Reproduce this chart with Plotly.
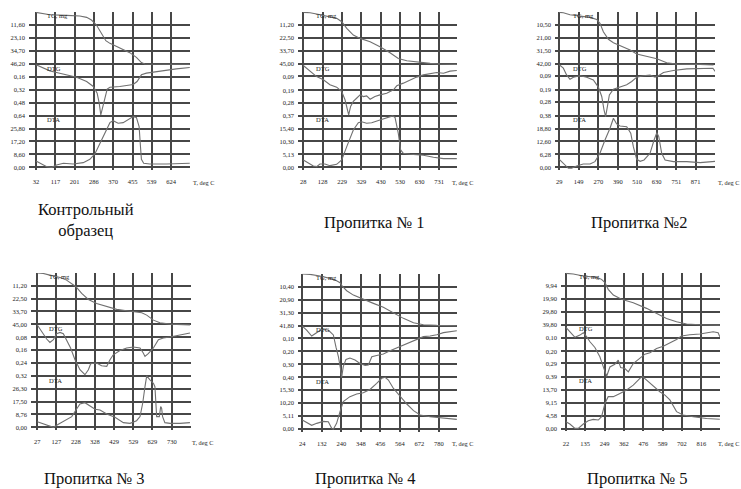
import plotly.graph_objects as go

# ---------------- data (T in deg C; TG in mg lost; DTG; DTA) ----------------
captions = ["Контрольный<br>образец", "Пропитка № 1", "Пропитка №2",
            "Пропитка № 3", "Пропитка № 4", "Пропитка № 5"]

# Panel 1 - control sample
p1_xticks = [32, 117, 201, 286, 370, 455, 539, 624]
p1_tg_ticks = [11.60, 23.10, 34.70, 46.20]
p1_dtg_ticks = [0.16, 0.32, 0.48, 0.64]
p1_dta_ticks = [25.80, 17.20, 8.60, 0.00]
p1_tg_T = [32, 64, 93, 166, 224, 254, 275, 297, 319, 338, 356, 399, 443, 472, 494, 509, 706]
p1_tg = [0.24, 1.1, 2.3, 2.9, 3.5, 4.7, 7.1, 11.5, 19.0, 25.5, 27.9, 31.8, 36.2, 40.4, 45.1, 46.3, 46.6]
p1_dtg_T = [32, 64, 93, 122, 166, 210, 254, 283, 300, 309, 316, 324, 334, 344, 356, 378, 399, 429, 458, 475, 494, 516, 560, 604, 647, 706]
p1_dtg = [0.012, 0.054, 0.087, 0.107, 0.136, 0.165, 0.219, 0.28, 0.363, 0.487, 0.631, 0.528, 0.404, 0.313, 0.289, 0.289, 0.28, 0.268, 0.256, 0.219, 0.136, 0.115, 0.095, 0.078, 0.062, 0.045]
p1_dta_T = [32, 57, 79, 101, 122, 152, 195, 239, 268, 290, 312, 334, 356, 370, 392, 414, 436, 458, 472, 484, 490, 494, 504, 531, 604, 706]
p1_dta = [4.2, 2.2, 0.44, 0.0, 1.55, 2.66, 2.2, 3.1, 5.3, 8.9, 16.0, 23.7, 29.7, 31.0, 29.3, 29.7, 31.9, 33.7, 33.2, 27.0, 13.7, 5.3, 2.66, 2.2, 2.2, 2.66]

# Panel 2
p2_xticks = [28, 128, 229, 329, 430, 530, 630, 731]
p2_tg_ticks = [11.20, 22.50, 33.70, 45.00]
p2_dtg_ticks = [0.09, 0.19, 0.28, 0.37]
p2_dta_ticks = [15.40, 10.30, 5.13, 0.00]
p2_tg_T = [28, 63, 97, 149, 201, 227, 253, 287, 322, 374, 425, 477, 520, 564, 615, 685, 736, 823]
p2_tg = [0.23, 0.52, 1.68, 3.42, 5.45, 8.35, 14.15, 19.95, 22.85, 25.75, 30.1, 35.3, 40.3, 42.3, 43.5, 44.6, 45.2, 45.5]
p2_dtg_T = [28, 63, 97, 132, 166, 201, 227, 244, 256, 263, 273, 287, 304, 322, 339, 356, 374, 399, 425, 460, 495, 512, 546, 581, 615, 650, 685, 719, 754, 788, 823]
p2_dtg = [0.012, 0.055, 0.091, 0.114, 0.150, 0.167, 0.198, 0.257, 0.329, 0.365, 0.305, 0.269, 0.246, 0.222, 0.234, 0.229, 0.253, 0.234, 0.222, 0.210, 0.186, 0.157, 0.138, 0.114, 0.095, 0.079, 0.072, 0.062, 0.067, 0.052, 0.048]
p2_dta_T = [28, 54, 80, 97, 114, 140, 166, 201, 227, 253, 287, 313, 330, 356, 382, 425, 460, 491, 503, 520, 532, 546, 581, 650, 702, 754, 823]
p2_dta = [2.91, 1.85, 0.53, 0.26, 1.32, 1.32, 0.66, 1.19, 2.91, 8.2, 14.8, 17.7, 18.1, 17.5, 17.7, 18.8, 19.7, 20.4, 19.8, 13.5, 6.9, 5.55, 5.2, 4.76, 3.97, 3.44, 3.44]

# Panel 3
p3_xticks = [29, 149, 270, 390, 510, 630, 751, 871]
p3_tg_ticks = [10.50, 21.00, 31.50, 42.00]
p3_dtg_ticks = [0.09, 0.19, 0.28, 0.38]
p3_dta_ticks = [18.80, 12.60, 6.28, 0.00]
p3_tg_T = [29, 54, 95, 157, 219, 260, 280, 301, 332, 363, 404, 466, 507, 569, 631, 692, 754, 898, 981]
p3_tg = [0.2, 0.5, 2.1, 3.2, 4.3, 5.9, 9.1, 15.9, 22.1, 24.8, 27.3, 30.8, 34.0, 36.2, 37.8, 41.1, 42.2, 42.4, 43.0]
p3_dtg_T = [29, 54, 74, 95, 116, 157, 198, 239, 270, 291, 305, 315, 326, 338, 363, 404, 445, 476, 507, 548, 589, 620, 641, 672, 733, 816, 898, 977, 991]
p3_dtg = [0.007, 0.032, 0.081, 0.113, 0.098, 0.088, 0.098, 0.118, 0.171, 0.240, 0.338, 0.387, 0.313, 0.228, 0.186, 0.171, 0.154, 0.130, 0.098, 0.088, 0.083, 0.098, 0.088, 0.064, 0.049, 0.037, 0.032, 0.032, 0.056]
p3_dta_T = [29, 54, 85, 105, 136, 177, 219, 249, 280, 311, 342, 363, 383, 404, 445, 470, 486, 507, 528, 552, 589, 614, 631, 643, 661, 682, 733, 816, 898, 991]
p3_dta = [3.88, 1.94, -0.48, -0.48, 0.65, 1.62, 1.62, 2.75, 6.79, 13.25, 18.9, 23.75, 21.0, 20.0, 19.7, 16.5, 10.0, 3.88, 2.91, 3.56, 6.79, 13.25, 16.8, 14.9, 6.79, 3.56, 2.75, 2.75, 2.26, 2.91]

# Panel 4
p4_xticks = [27, 127, 228, 328, 429, 529, 629, 730]
p4_tg_ticks = [11.20, 22.50, 33.70, 45.00]
p4_dtg_ticks = [0.08, 0.16, 0.24, 0.32]
p4_dta_ticks = [26.30, 17.50, 8.76, 0.00]
p4_tg_T = [27, 58, 93, 146, 180, 207, 229, 259, 294, 337, 390, 442, 494, 529, 573, 599, 634, 668, 721, 825]
p4_tg = [0.0, 0.47, 1.92, 3.96, 6.3, 9.2, 12.1, 17.95, 23.2, 26.7, 29.6, 31.9, 33.1, 33.7, 34.9, 36.9, 41.3, 43.6, 44.8, 45.4]
p4_dtg_T = [27, 50, 76, 93, 111, 128, 146, 163, 180, 201, 224, 250, 276, 294, 306, 337, 363, 390, 407, 424, 459, 494, 529, 564, 581, 590, 607, 634, 660, 686, 721, 756, 790, 825]
p4_dtg = [0.004, 0.044, 0.091, 0.112, 0.095, 0.058, 0.050, 0.058, 0.095, 0.147, 0.220, 0.282, 0.313, 0.282, 0.245, 0.240, 0.257, 0.261, 0.220, 0.189, 0.162, 0.147, 0.141, 0.147, 0.178, 0.199, 0.182, 0.147, 0.095, 0.085, 0.079, 0.070, 0.064, 0.054]
p4_dta_T = [27, 58, 93, 111, 137, 180, 207, 229, 250, 276, 302, 329, 355, 390, 433, 477, 512, 546, 564, 578, 590, 599, 616, 634, 642, 651, 665, 672, 677, 682, 694, 721, 773, 825]
p4_dta = [3.86, 2.27, 0.45, 0.0, 2.04, 5.0, 7.27, 11.8, 15.9, 16.8, 14.5, 12.3, 11.8, 9.1, 6.8, 3.2, 2.7, 4.5, 7.3, 16.4, 27.7, 35.0, 32.3, 30.0, 27.7, 7.3, 7.3, 14.1, 13.0, 7.3, 3.2, 2.7, 2.7, 3.2]

# Panel 5
p5_xticks = [24, 132, 240, 348, 456, 564, 672, 780]
p5_tg_ticks = [10.40, 20.90, 31.30, 41.80]
p5_dtg_ticks = [0.10, 0.20, 0.30, 0.40]
p5_dta_ticks = [15.30, 10.20, 5.11, 0.00]
p5_tg_T = [24, 67, 122, 177, 214, 233, 248, 270, 307, 362, 418, 473, 529, 584, 640, 695, 769, 880]
p5_tg = [0.2, 0.5, 1.8, 3.7, 5.6, 7.2, 10.45, 13.7, 17.2, 20.7, 23.9, 27.1, 31.5, 36.0, 39.5, 41.2, 41.7, 42.0]
p5_dtg_T = [24, 48, 76, 104, 131, 168, 196, 211, 224, 237, 242, 251, 266, 288, 316, 344, 372, 390, 409, 436, 473, 510, 547, 584, 621, 658, 695, 732, 769, 806, 843, 880]
p5_dtg = [0.004, 0.035, 0.081, 0.055, 0.030, 0.035, 0.073, 0.169, 0.241, 0.344, 0.401, 0.318, 0.262, 0.251, 0.267, 0.293, 0.308, 0.305, 0.241, 0.231, 0.220, 0.195, 0.174, 0.153, 0.133, 0.112, 0.086, 0.081, 0.071, 0.055, 0.048, 0.040]
p5_dta_T = [24, 48, 76, 104, 140, 168, 187, 196, 214, 233, 251, 288, 325, 362, 399, 436, 464, 483, 501, 529, 566, 603, 640, 677, 732, 806, 880]
p5_dta = [3.55, 2.5, 1.45, 2.23, 3.02, 2.89, 0.26, -0.13, 2.23, 6.8, 10.8, 12.75, 13.8, 14.3, 15.6, 18.0, 20.0, 20.4, 19.3, 16.0, 12.75, 9.86, 7.23, 5.52, 4.86, 4.34, 3.81]

# Panel 6
p6_xticks = [22, 135, 249, 362, 476, 589, 702, 816]
p6_tg_ticks = [9.94, 19.90, 29.80, 39.80]
p6_dtg_ticks = [0.10, 0.20, 0.29, 0.39]
p6_dta_ticks = [13.70, 9.15, 4.58, 0.00]
p6_tg_T = [22, 65, 124, 202, 231, 251, 270, 300, 348, 417, 495, 554, 612, 671, 730, 808, 925]
p6_tg = [0.5, 1.0, 2.55, 3.6, 5.1, 7.65, 12.75, 17.1, 20.4, 23.0, 27.3, 31.1, 35.0, 37.5, 39.3, 39.8, 40.1]
p6_dtg_T = [22, 45, 75, 104, 124, 143, 163, 192, 221, 245, 261, 280, 309, 329, 343, 368, 388, 417, 456, 485, 515, 554, 593, 632, 671, 700, 749, 808, 886, 915, 925]
p6_dtg = [0.020, 0.053, 0.095, 0.078, 0.060, 0.090, 0.128, 0.171, 0.241, 0.329, 0.387, 0.317, 0.297, 0.266, 0.322, 0.329, 0.354, 0.291, 0.254, 0.221, 0.211, 0.178, 0.161, 0.136, 0.111, 0.085, 0.075, 0.070, 0.053, 0.060, 0.090]
p6_dta_T = [22, 45, 75, 94, 124, 153, 182, 212, 231, 251, 270, 300, 339, 378, 417, 456, 472, 495, 534, 573, 603, 632, 671, 710, 769, 847, 925]
p6_dta = [2.46, 1.64, 0.12, 0.12, 1.64, 2.81, 3.28, 3.05, 4.22, 8.9, 11.25, 11.25, 12.4, 13.6, 15.3, 17.7, 18.3, 17.1, 14.8, 13.0, 11.8, 10.1, 6.0, 4.8, 4.2, 3.6, 3.3]

# ---------------- layout geometry (pixels) ----------------
W, H = 741, 489
# plot box: left, right, top(row 12), bottom(row -0.2); x range in deg C
boxes = [
    dict(l=29, r=190, t=12.1, b=169.9, xr=[1.3, 707], tl=190.5, ty=182.7),
    dict(l=298, r=457, t=12.1, b=169.9, xr=[0.5, 824], tl=449.5, ty=182.7),
    dict(l=555, r=715, t=12.1, b=169.9, xr=[2.5, 990], tl=716, ty=182.7),
    dict(l=31, r=190.7, t=272.9, b=429.9, xr=[-6, 829], tl=189.5, ty=442.7),
    dict(l=298, r=457, t=273.8, b=431.6, xr=[0.2, 881], tl=449.5, ty=443.3),
    dict(l=561, r=720, t=272.7, b=431.3, xr=[-7, 926], tl=716, ty=443.3),
]
cap_pos = [(86, 219.5), (374, 222), (639, 222), (95, 478), (365, 478), (637, 478)]

panels = [
    (p1_xticks, p1_tg_ticks, p1_dtg_ticks, p1_dta_ticks, p1_tg_T, p1_tg, p1_dtg_T, p1_dtg, p1_dta_T, p1_dta),
    (p2_xticks, p2_tg_ticks, p2_dtg_ticks, p2_dta_ticks, p2_tg_T, p2_tg, p2_dtg_T, p2_dtg, p2_dta_T, p2_dta),
    (p3_xticks, p3_tg_ticks, p3_dtg_ticks, p3_dta_ticks, p3_tg_T, p3_tg, p3_dtg_T, p3_dtg, p3_dta_T, p3_dta),
    (p4_xticks, p4_tg_ticks, p4_dtg_ticks, p4_dta_ticks, p4_tg_T, p4_tg, p4_dtg_T, p4_dtg, p4_dta_T, p4_dta),
    (p5_xticks, p5_tg_ticks, p5_dtg_ticks, p5_dta_ticks, p5_tg_T, p5_tg, p5_dtg_T, p5_dtg, p5_dta_T, p5_dta),
    (p6_xticks, p6_tg_ticks, p6_dtg_ticks, p6_dta_ticks, p6_tg_T, p6_tg, p6_dtg_T, p6_dtg, p6_dta_T, p6_dta),
]

SERIF = "Liberation Serif, Times New Roman, serif"
GRID = "#474747"
GW = 1.5
CURVE = "#707070"
TICKFONT = dict(family=SERIF, size=6.5, color="#222")


def fmt(v):
    return f"{v:.2f}".replace(".", ",")


fig = go.Figure()
layout = dict(width=W, height=H, margin=dict(l=0, r=0, t=0, b=0),
              paper_bgcolor="white", plot_bgcolor="white", showlegend=False)
annotations = []

for i, (bx, pdata) in enumerate(zip(boxes, panels)):
    xt, tgt, dtgt, dtat, tgT, tg, dtgT, dtg, dtaT, dta = pdata
    xi = i + 1
    xid = "x" if xi == 1 else f"x{xi}"
    ybase = 3 * i + 1
    yids = ["y" if ybase == 1 else f"y{ybase}", f"y{ybase + 1}", f"y{ybase + 2}"]
    xdom = [bx["l"] / W, bx["r"] / W]
    ydom = [1 - bx["b"] / H, 1 - bx["t"] / H]
    tg_step = tgt[-1] / 4
    dtg_step = dtgt[-1] / 4
    dta_step = dtat[0] / 3

    layout["xaxis" if xi == 1 else f"xaxis{xi}"] = dict(
        domain=xdom, anchor=yids[0], range=bx["xr"], tickvals=xt,
        ticktext=[str(v) for v in xt], showgrid=True, gridcolor=GRID, gridwidth=GW,
        zeroline=False, showline=False, ticks="", tickfont=TICKFONT,
        ticklabelstandoff=7, fixedrange=True)
    common = dict(domain=ydom, anchor=xid, side="left", showline=False, ticks="",
                  tickfont=TICKFONT, showgrid=True, gridcolor=GRID, gridwidth=GW,
                  ticklabelstandoff=3, fixedrange=True)
    layout["yaxis" if ybase == 1 else f"yaxis{ybase}"] = dict(
        common, range=[12.2 * tg_step, 0], tickvals=tgt, ticktext=[fmt(v) for v in tgt],
        zeroline=False)
    layout[f"yaxis{ybase + 1}"] = dict(
        common, overlaying=yids[0], range=[8.2 * dtg_step, -4 * dtg_step],
        tickvals=dtgt, ticktext=[fmt(v) for v in dtgt], zeroline=False)
    layout[f"yaxis{ybase + 2}"] = dict(
        common, overlaying=yids[0], range=[-0.2 * dta_step, 12 * dta_step],
        tickvals=dtat, ticktext=[fmt(v) for v in dtat], zeroline=True,
        zerolinecolor=GRID, zerolinewidth=GW)

    for T, v, yid in ((tgT, tg, yids[0]), (dtgT, dtg, yids[1]), (dtaT, dta, yids[2])):
        fig.add_trace(go.Scatter(x=T, y=v, xaxis=xid, yaxis=yid, mode="lines",
                                 line=dict(color=CURVE, width=1.1), hoverinfo="skip"))

    # curve labels
    for txt, dy in (("TG, mg", 3.6), ("DTG", 56), ("DTA", 107.5)):
        annotations.append(dict(text=txt, xref="paper", yref="paper",
                                x=(bx["l"] + 16) / W, y=1 - (bx["t"] + dy) / H,
                                xanchor="left", yanchor="middle", showarrow=False,
                                font=dict(family=SERIF, size=6.5, color="#222")))
    # axis title
    annotations.append(dict(text="T, deg C", xref="paper", yref="paper",
                            x=bx["tl"] / W, y=1 - bx["ty"] / H, xanchor="left",
                            yanchor="middle", showarrow=False,
                            font=dict(family=SERIF, size=6.3, color="#222")))
    # caption
    cx, cy = cap_pos[i]
    annotations.append(dict(text=captions[i], xref="paper", yref="paper",
                            x=cx / W, y=1 - cy / H, xanchor="center", yanchor="middle",
                            showarrow=False, align="center",
                            font=dict(family=SERIF, size=16.5, color="#111")))

layout["annotations"] = annotations
fig.update_layout(**layout)
fig.write_html("out.html")
